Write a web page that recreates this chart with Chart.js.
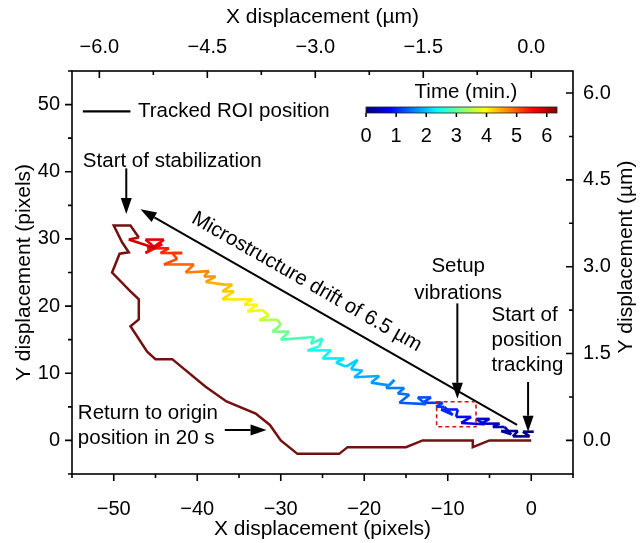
<!DOCTYPE html>
<html>
<head>
<meta charset="utf-8">
<script src="https://cdn.jsdelivr.net/npm/chart.js@4.4.1/dist/chart.umd.min.js"></script>
<style>
  html, body { margin: 0; padding: 0; background: #fff; }
  canvas { display: block; }
</style>
</head>
<body>
<canvas id="drift-chart" width="640" height="543"></canvas>
<script>
; (function() {

	// tracked ROI position while stabilizing (pixels) and its time stamp (min.)
	const driftX = [0.3, -1.0, -0.2, -2.2, -1.6, -3.6, -2.4, -3.2, -4.6, -3.8, -6.0, -5.0, -6.6, -5.6, -8.4, -7.2, -9.0, -8.8, -10.8, -9.4,
		-10.4, -11.4, -10.6, -13.0, -12.0, -13.6, -12.6, -15.8, -14.6, -16.0, -15.2, -17.4, -16.4, -17.0, -19.2, -18.2, -21.2, -20.2, -21.6, -20.8,
		-22.2, -23.4, -22.4, -25.0, -24.0, -26.8, -25.4, -25.0, -26.4, -26.0, -30.0, -29.0, -31.0, -30.0, -30.4, -32.6, -31.4, -32.2, -34.0, -32.8,
		-34.4, -33.4, -37.0, -35.6, -37.0, -35.8, -36.8, -39.0, -37.8, -39.2, -38.6, -41.4, -40.4, -44.0, -42.4, -43.0, -41.8, -44.4, -43.4, -46.0,
		-44.2, -46.2, -44.0, -46.2, -45.0, -48.2, -47.0]
	const driftY = [1.3, 1.3, 0.6, 0.6, 1.4, 1.4, 0.9, 2.0, 2.0, 2.5, 2.5, 3.2, 3.2, 2.4, 2.6, 3.5, 3.5, 4.6, 4.6, 3.8,
		5.0, 5.0, 5.6, 5.6, 6.4, 6.4, 5.4, 5.6, 6.8, 7.0, 7.8, 7.8, 9.0, 8.2, 8.6, 9.6, 9.4, 10.4, 10.6, 12.0,
		11.0, 11.6, 12.2, 12.2, 13.4, 13.4, 14.0, 15.2, 14.4, 15.4, 15.0, 16.2, 16.2, 17.2, 18.0, 17.9, 18.6, 19.4, 19.2, 20.2,
		20.2, 21.0, 21.0, 22.2, 22.2, 23.2, 23.2, 23.6, 24.4, 24.4, 25.2, 25.0, 26.2, 26.2, 27.0, 27.9, 27.9, 27.9, 28.6, 28.6,
		29.2, 27.9, 29.9, 29.9, 28.6, 29.9, 30.2]
	const driftT = [0.00, 0.03, 0.06, 0.10, 0.15, 0.20, 0.24, 0.30, 0.36, 0.40, 0.50, 0.56, 0.62, 0.68, 0.78, 0.85, 0.92, 0.96, 1.02, 1.06,
		1.10, 1.13, 1.16, 1.22, 1.27, 1.31, 1.34, 1.42, 1.48, 1.53, 1.57, 1.63, 1.68, 1.72, 1.80, 1.86, 1.95, 2.00, 2.05, 2.09,
		2.14, 2.20, 2.26, 2.36, 2.44, 2.58, 2.66, 2.72, 2.78, 2.84, 3.00, 3.10, 3.20, 3.30, 3.50, 3.70, 3.78, 3.85, 3.95, 4.00,
		4.05, 4.10, 4.20, 4.28, 4.34, 4.40, 4.45, 4.55, 4.62, 4.68, 4.74, 4.85, 4.92, 5.05, 5.12, 5.18, 5.22, 5.32, 5.40, 5.50,
		5.58, 5.64, 5.72, 5.78, 5.84, 5.92, 6.00]

	// return to origin in 20 s (pixels)
	const returnX = [-47.0, -48.0, -50.0, -49.0, -48.2, -49.3, -50.2, -48.0, -47.0, -47.0, -48.0, -46.0, -45.0, -43.0, -39.0, -36.5, -33.0, -31.3, -30.0, -28.0,
		-23.0, -22.0, -15.0, -13.0, -7.0, -7.0, -5.0, 0.0]
	const returnY = [30.2, 32.0, 32.0, 29.5, 28.0, 27.8, 25.0, 22.2, 21.0, 18.0, 17.0, 13.2, 12.1, 12.1, 8.0, 5.8, 4.0, 2.3, 0.0, -2.0,
		-2.0, -1.0, -1.0, 0.0, 0.0, -1.0, 0.0, 0.0]

	const umPerPixel = 0.116
	const timeTicks = [0, 1, 2, 3, 4, 5, 6]
	const timeMax = 6.34

	const FONT = '"Liberation Sans", Arial, sans-serif'
	const MAROON = '#731010'

	function clamp(v) { return Math.max(0, Math.min(1, v)) }
	function jet(f) {
		f = clamp(f)
		const r = clamp(1.5 - Math.abs(4 * f - 3))
		const g = clamp(1.5 - Math.abs(4 * f - 2))
		const b = clamp(1.5 - Math.abs(4 * f - 1))
		return `rgb(${Math.round(r * 255)},${Math.round(g * 255)},${Math.round(b * 255)})`
	}
	function timeColor(t) { return jet(t / timeMax) }

	function minus(s) { return s.replace('-', '\u2212') }
	function pixelLabel(v) {
		const r = Math.round(v)
		return r % 10 === 0 ? minus(String(r)) : ''
	}
	function umLabel(v) {
		const r = Math.round(v / 0.75)
		if (r % 2 !== 0) return ''
		const val = r * 0.75
		return val === 0 ? '0.0' : minus(val.toFixed(1))
	}

	// annotations, placed in pixel-unit data coordinates
	const notes = {
		legend: { x1: -53.7, x2: -48.0, y: 49.0, tx: -47.1 },
		stab: { tx: -53.7, ty: 41.6, ax: -48.5, ay1: 40.5, ay2: 33.7 },
		drift: { x1: -1.7, y1: 2.3, x2: -46.8, y2: 34.4, tx: -26.9, ty: 23.6 },
		setup: { tx: -8.75, ty: [25.9, 21.9], ax: -8.85, ay1: 20.4, ay2: 6.2, box: [-11.33, 2.04, -6.62, 5.76] },
		track: { tx: -4.76, ty: [18.66, 14.94, 11.22], ax: -0.38, ay1: 8.7, ay2: 1.3 },
		ret: { tx: -54.3, ty: [4.08, 0.36], ax1: -36.7, ax2: -31.7, ay: 1.55 },
	}

	function text(ctx, s, x, y, align, size) {
		ctx.font = `${size || 20}px ${FONT}`
		ctx.textAlign = align || 'left'
		ctx.textBaseline = 'middle'
		ctx.fillStyle = '#000'
		ctx.fillText(s, x, y)
	}

	function arrow(ctx, x1, y1, x2, y2) {
		const ang = Math.atan2(y2 - y1, x2 - x1)
		const hl = 16, hw = 5.5
		const bx = x2 - Math.cos(ang) * hl, by = y2 - Math.sin(ang) * hl
		ctx.strokeStyle = '#000'
		ctx.lineWidth = 2
		ctx.beginPath()
		ctx.moveTo(x1, y1)
		ctx.lineTo(bx, by)
		ctx.stroke()
		ctx.fillStyle = '#000'
		ctx.beginPath()
		ctx.moveTo(x2, y2)
		ctx.lineTo(bx - Math.sin(ang) * hw, by + Math.cos(ang) * hw)
		ctx.lineTo(bx + Math.sin(ang) * hw, by - Math.cos(ang) * hw)
		ctx.closePath()
		ctx.fill()
	}

	function drawTicks(ctx, scale, base, dir) {
		ctx.beginPath()
		scale.ticks.forEach(t => {
			const p = scale.getPixelForValue(t.value)
			const len = t.label ? 7 : 4
			if (scale.isHorizontal()) {
				ctx.moveTo(p, base)
				ctx.lineTo(p, base + dir * len)
			} else {
				ctx.moveTo(base, p)
				ctx.lineTo(base + dir * len, p)
			}
		})
		ctx.stroke()
	}

	const decorPlugin = {
		id: 'decor',
		afterDatasetsDraw(chart) {
			const { ctx, chartArea: a, scales } = chart
			const px = v => scales.x.getPixelForValue(v)
			const py = v => scales.y.getPixelForValue(v)
			ctx.save()

			// frame and tick marks (bottom/left outward, top/right inward)
			ctx.strokeStyle = '#000'
			ctx.lineWidth = 1.6
			ctx.strokeRect(a.left, a.top, a.right - a.left, a.bottom - a.top)
			drawTicks(ctx, scales.x, a.bottom, 1)
			drawTicks(ctx, scales.x2, a.top, 1)
			drawTicks(ctx, scales.y, a.left, -1)
			drawTicks(ctx, scales.y2, a.right, -1)

			// right axis title
			ctx.save()
			ctx.translate(626, 257)
			ctx.rotate(-Math.PI / 2)
			text(ctx, 'Y displacement (\u00b5m)', 0, 0, 'center', 21)
			ctx.restore()

			// legend
			const lg = notes.legend
			ctx.strokeStyle = '#000'
			ctx.lineWidth = 2.2
			ctx.beginPath()
			ctx.moveTo(px(lg.x1), py(lg.y))
			ctx.lineTo(px(lg.x2), py(lg.y))
			ctx.stroke()
			text(ctx, 'Tracked ROI position', px(lg.tx), py(lg.y), 'left', 20.5)

			// colour bar
			const cbL = 366, cbR = 557, cbT = 107, cbB = 113
			const grad = ctx.createLinearGradient(cbL, 0, cbR, 0)
			for (let i = 0; i <= 32; i++) grad.addColorStop(i / 32, jet(i / 32))
			ctx.fillStyle = grad
			ctx.fillRect(cbL, cbT, cbR - cbL, cbB - cbT)
			ctx.strokeStyle = '#222'
			ctx.lineWidth = 0.8
			ctx.strokeRect(cbL, cbT, cbR - cbL, cbB - cbT)
			ctx.lineWidth = 1.5
			ctx.strokeStyle = '#000'
			ctx.beginPath()
			timeTicks.forEach(t => {
				const x = cbL + t / timeMax * (cbR - cbL)
				ctx.moveTo(x, cbB)
				ctx.lineTo(x, cbB + 4)
			})
			ctx.stroke()
			timeTicks.forEach(t => {
				text(ctx, String(t), cbL + t / timeMax * (cbR - cbL), 136, 'center', 20)
			})
			text(ctx, 'Time (min.)', 466, 92, 'center', 20.5)

			// start of stabilization
			const st = notes.stab
			text(ctx, 'Start of stabilization', px(st.tx), py(st.ty), 'left', 20.5)
			arrow(ctx, px(st.ax), py(st.ay1), px(st.ax), py(st.ay2))

			// drift arrow and rotated label
			const dr = notes.drift
			const x1 = px(dr.x1), y1 = py(dr.y1), x2 = px(dr.x2), y2 = py(dr.y2)
			arrow(ctx, x1, y1, x2, y2)
			ctx.save()
			ctx.translate(px(dr.tx), py(dr.ty))
			ctx.rotate(Math.atan2(y1 - y2, x1 - x2))
			text(ctx, 'Microstructure drift of 6.5 \u00b5m', 0, 0, 'center', 20.5)
			ctx.restore()

			// setup vibrations
			const su = notes.setup
			text(ctx, 'Setup', px(su.tx), py(su.ty[0]), 'center', 20.5)
			text(ctx, 'vibrations', px(su.tx), py(su.ty[1]), 'center', 20.5)
			arrow(ctx, px(su.ax), py(su.ay1), px(su.ax), py(su.ay2))
			ctx.save()
			ctx.strokeStyle = '#d01515'
			ctx.lineWidth = 1.6
			ctx.setLineDash([4, 3])
			const bx1 = px(su.box[0]), by1 = py(su.box[3])
			ctx.strokeRect(bx1, by1, px(su.box[2]) - bx1, py(su.box[1]) - by1)
			ctx.restore()

			// start of position tracking
			const tr = notes.track
			const trLines = ['Start of', 'position', 'tracking']
			trLines.forEach((s, i) => text(ctx, s, px(tr.tx), py(tr.ty[i]), 'left', 20.5))
			arrow(ctx, px(tr.ax), py(tr.ay1), px(tr.ax), py(tr.ay2))

			// return to origin
			const rt = notes.ret
			text(ctx, 'Return to origin', px(rt.tx), py(rt.ty[0]), 'left', 20.5)
			text(ctx, 'position in 20 s', px(rt.tx), py(rt.ty[1]), 'left', 20.5)
			arrow(ctx, px(rt.ax1), py(rt.ay), px(rt.ax2), py(rt.ay))

			ctx.restore()
		}
	}

	const tickFont = { family: FONT, size: 20 }
	const titleFont = { family: FONT, size: 21 }

	const config = {
		type: 'scatter',
		data: {
			datasets: [
				{
					label: 'Tracked ROI position',
					data: driftX.map((x, i) => ({ x: x, y: driftY[i] })),
					showLine: true,
					pointRadius: 0,
					borderWidth: 2.6,
					borderColor: timeColor(0),
					segment: {
						borderColor: c => timeColor(driftT[c.p0DataIndex]),
					},
				},
				{
					label: 'Return',
					data: returnX.map((x, i) => ({ x: x, y: returnY[i] })),
					showLine: true,
					pointRadius: 0,
					borderWidth: 2.5,
					borderColor: MAROON,
				},
			],
		},
		options: {
			responsive: false,
			animation: false,
			layout: { padding: 0 },
			plugins: {
				legend: { display: false },
				tooltip: { enabled: false },
			},
			scales: {
				x: {
					type: 'linear', position: 'bottom', min: -55, max: 5,
					afterFit: s => { s.height = 69 },
					grid: { display: false, drawTicks: false },
					border: { display: false },
					ticks: { stepSize: 5, autoSkip: false, maxRotation: 0, padding: 23, font: tickFont, color: '#000', callback: pixelLabel },
					title: { display: true, text: 'X displacement (pixels)', font: titleFont, color: '#000', padding: { top: 0, bottom: 1.5 } },
				},
				x2: {
					type: 'linear', position: 'top', min: -55 * umPerPixel, max: 5 * umPerPixel,
					afterFit: s => { s.height = 71 },
					grid: { display: false, drawTicks: false },
					border: { display: false },
					ticks: { stepSize: 0.75, includeBounds: false, autoSkip: false, maxRotation: 0, padding: 12, font: tickFont, color: '#000', callback: umLabel },
					title: { display: true, text: 'X displacement (\u00b5m)', font: titleFont, color: '#000', padding: { top: 4.5, bottom: 0 } },
				},
				y: {
					type: 'linear', position: 'left', min: -5, max: 55,
					afterFit: s => { s.width = 72 },
					grid: { display: false, drawTicks: false },
					border: { display: false },
					ticks: { stepSize: 5, autoSkip: false, padding: 12, font: tickFont, color: '#000', callback: pixelLabel },
					title: { display: true, text: 'Y displacement (pixels)', font: titleFont, color: '#000', padding: { top: 11.5, bottom: 0 } },
				},
				y2: {
					type: 'linear', position: 'right', min: -5 * umPerPixel, max: 55 * umPerPixel,
					afterFit: s => { s.width = 67 },
					grid: { display: false, drawTicks: false },
					border: { display: false },
					ticks: { stepSize: 0.75, includeBounds: false, autoSkip: false, padding: 10, font: tickFont, color: '#000', callback: umLabel },
					title: { display: false },
				},
			},
		},
		plugins: [decorPlugin],
	}

	const ctx = document.getElementById('drift-chart')
	let chart = new Chart(ctx, config)
})()
</script>
</body>
</html>
